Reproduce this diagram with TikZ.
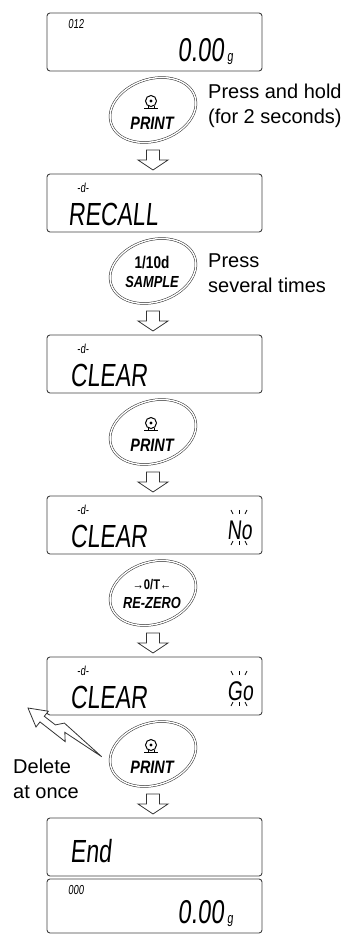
\documentclass[tikz,border=0pt]{standalone}
\usepackage{fontspec}
\setmainfont{Liberation Sans}
\newfontfamily\lcdfont[FakeStretch=0.72,FakeSlant=0.1]{Liberation Sans}
\newfontfamily\keyfont[FakeStretch=0.8]{Liberation Sans}
\usetikzlibrary{calc}

\begin{document}
\begin{tikzpicture}[
      x=1pt, y=-1pt,
      lcd/.style={draw=black!75, line width=0.9pt, rounded corners=3pt,
                  minimum width=215pt, minimum height=58pt, inner sep=0pt},
      seg/.style={font=\lcdfont\fontsize{32}{32}\selectfont, inner sep=0pt, anchor=base west},
      segsmall/.style={font=\lcdfont\fontsize{13}{13}\selectfont, inner sep=0pt, anchor=base west},
      segnum/.style={font=\lcdfont\fontsize{33}{33}\selectfont, inner sep=0pt, anchor=base east},
      segunit/.style={font=\lcdfont\fontsize{15}{15}\selectfont, inner sep=0pt, anchor=base west},
      segflag/.style={font=\lcdfont\fontsize{27}{27}\selectfont, inner sep=0pt, anchor=base west},
      rim/.style={draw=black!85, double=white, double distance=1.4pt, line width=0.5pt},
      keylbl/.style={font=\keyfont\bfseries\itshape\fontsize{18}{18}\selectfont, inner sep=0pt, anchor=base},
      keytop/.style={font=\keyfont\bfseries\fontsize{17}{17}\selectfont, inner sep=0pt, anchor=base},
      note/.style={font=\fontsize{20}{25}\selectfont, align=left, inner sep=0pt, anchor=west},
      hollow/.style={draw=black!80, line width=0.8pt, fill=white, line join=miter},
      downarr/.pic={\draw[hollow] (-6.5,0) -- (6.5,0) -- (6.5,10) -- (15,10) -- (0,20)
                    -- (-15,10) -- (-6.5,10) -- cycle;},
      printer/.pic={\draw[line width=1pt] (0,0) circle[radius=5.5];
                    \fill (0,0) circle[radius=1.6];
                    \draw[line width=1pt] (-3,5) -- (-3,7.5) (3,5) -- (3,7.5);
                    \draw[line width=1.3pt] (-7,7.5) -- (7,7.5);},
      blink/.pic={\foreach \a/\b in {-8/-6,0/0,8/6}{
                    \draw[line width=0.8pt] (\a,0) -- (\b,4);
                    \draw[line width=0.8pt] (\b,31) -- (\a,35);}}
    ]
    \useasboundingbox (0,0) rectangle (345,934);

    % displays
    \node[lcd] (disp1) at (154.5,42) {};
    \node[segsmall] at (68,29) {012};
    \node[segnum] at (224,62) {0.00};
    \node[segunit] at (227,62) {g};

    \node[lcd] (disp2) at (154.5,203) {};
    \node[segsmall] at (77,192) {-d-};
    \node[seg] at (68,225) {RECALL};

    \node[lcd] (disp3) at (154.5,364) {};
    \node[segsmall] at (77,353) {-d-};
    \node[seg] at (70,386) {CLEAR};

    \node[lcd] (disp4) at (154.5,525) {};
    \node[segsmall] at (77,514) {-d-};
    \node[seg] at (70,547) {CLEAR};
    \node[segflag] at (227,539) {No};
    \pic at (239,510) {blink};

    \node[lcd] (disp5) at (154.5,686) {};
    \node[segsmall] at (77,675) {-d-};
    \node[seg] at (70,708) {CLEAR};
    \node[segflag] at (227,700) {Go};
    \pic at (239,671) {blink};

    \node[lcd] (disp6) at (154.5,847) {};
    \node[seg] at (70,862) {End};

    \node[lcd, minimum height=54pt] (disp7) at (154.5,906) {};
    \node[segsmall] at (68,894) {000};
    \node[segnum] at (224,923) {0.00};
    \node[segunit] at (227,923) {g};

    % keys
    \draw[rim] (153,110) ellipse [x radius=44, y radius=31, rotate=18];
    \pic at (151,101) {printer};
    \node[keylbl] (key1) at (152,129) {PRINT};

    \draw[rim] (153,271) ellipse [x radius=44, y radius=31, rotate=18];
    \node[keytop] (key2top) at (152,268) {1/10d};
    \node[keylbl, font=\keyfont\bfseries\itshape\fontsize{16}{16}\selectfont] (key2) at (152,287) {SAMPLE};

    \draw[rim] (153,432) ellipse [x radius=44, y radius=31, rotate=18];
    \pic at (151,423) {printer};
    \node[keylbl] (key3) at (152,451) {PRINT};

    \draw[rim] (153,593) ellipse [x radius=44, y radius=31, rotate=18];
    \node[keytop, font=\keyfont\bfseries\fontsize{14}{14}\selectfont] (key4top) at (152,589) {→0/T←};
    \node[keylbl, font=\keyfont\bfseries\itshape\fontsize{16}{16}\selectfont] (key4) at (152,608) {RE-ZERO};

    \draw[rim] (153,754) ellipse [x radius=44, y radius=31, rotate=18];
    \pic at (151,745) {printer};
    \node[keylbl] (key5) at (152,773) {PRINT};

    % arrows between steps
    \foreach \y in {150,311,472,633,794}
      \pic at (153,\y) {downarr};

    % notes
    \node[note] (note1) at (208,105.5) {Press and hold\\(for 2 seconds)};
    \node[note] (note2) at (208,273.5) {Press\\several times};
    \node[note] (note3) at (13,778.5) {Delete\\at once};
    \draw[hollow] (28,708) -- (36,727) -- (40,721.9) -- (65.2,741.6) -- (64.8,732.3)
      -- (101.7,756.7) -- (64.4,723.1) -- (55.4,724.9) -- (44.3,716.3) -- (48.3,711.2) -- cycle;
  \end{tikzpicture}
\end{document}
